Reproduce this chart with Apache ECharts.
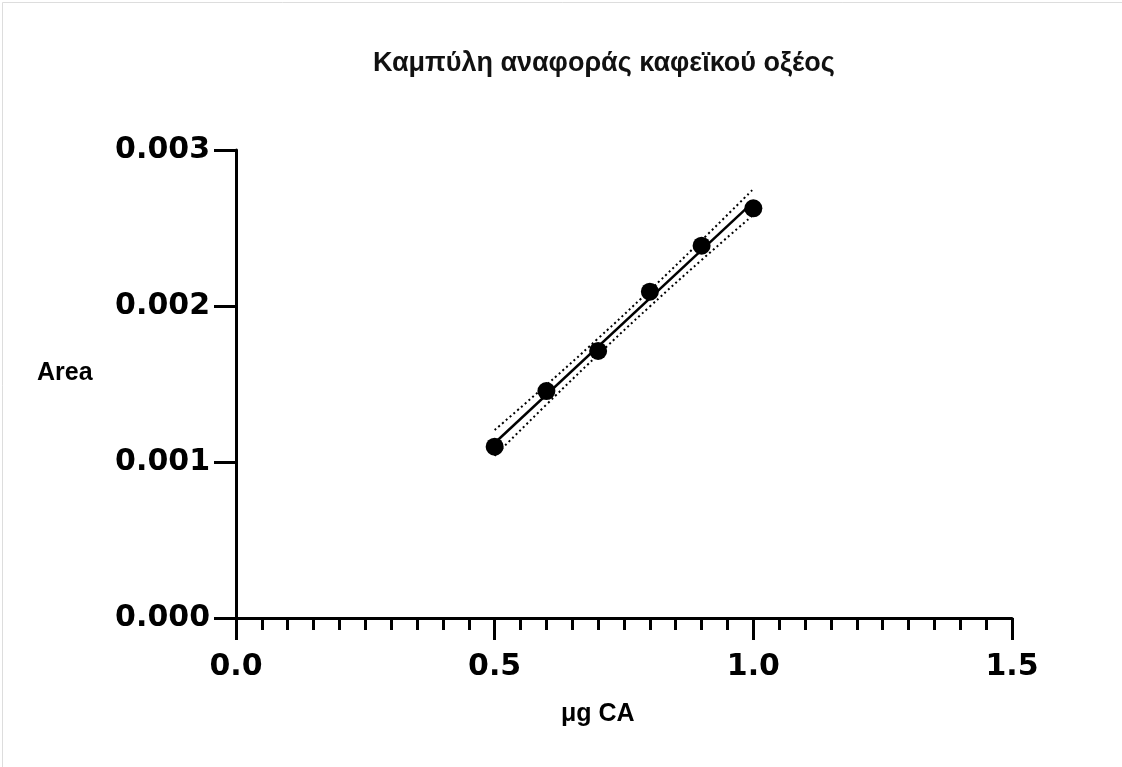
<!DOCTYPE html>
<html>
<head>
<meta charset="utf-8">
<script src="https://cdn.jsdelivr.net/npm/echarts@6/dist/echarts.min.js"></script>
<style>
html,body{margin:0;padding:0;background:#fff;}
#chart{width:1122px;height:767px;}
</style>
</head>
<body>
<div id="chart"></div>
<script>
// μg CA και Area
var xVals = [0.5, 0.6, 0.7, 0.8, 0.9, 1.0];
var yVals = [0.001098, 0.001455, 0.001712, 0.002092, 0.002387, 0.002626];
// ευθεία παλινδρόμησης (άκρα)
var fitX = [0.5, 1.0];
var fitY = [0.001122, 0.002667];
// ζώνες εμπιστοσύνης
var bandUpper = [0.001205, 0.001494, 0.001792, 0.002101, 0.002421, 0.002750];
var bandLower = [0.001039, 0.001368, 0.001688, 0.001997, 0.002295, 0.002584];

function pairs(xs, ys) {
	var out = [];
	xs.forEach(function(x, i) { out.push([x, ys[i]]); });
	return out;
}

var chart = echarts.init(document.getElementById('chart'));
var option = {
	backgroundColor: '#fff',
	animation: false,
	title: {
		text: 'Καμπύλη αναφοράς καφεϊκού οξέος',
		left: 368,
		top: 45,
		textStyle: {
			fontFamily: 'Liberation Sans',
			fontSize: 27,
			fontWeight: 'bold',
			color: '#111'
		}
	},
	grid: {
		left: 236,
		right: 110,
		top: 150,
		bottom: 149
	},
	xAxis: {
		type: 'value',
		min: 0,
		max: 1.5,
		interval: 0.5,
		splitLine: { show: false },
		axisLine: { onZero: false, lineStyle: { color: '#000', width: 3 } },
		axisTick: { length: 22, lineStyle: { color: '#000', width: 3 } },
		minorTick: { show: true, splitNumber: 10, length: 12, lineStyle: { color: '#000', width: 3 } },
		axisLabel: {
			margin: 34,
			fontFamily: 'DejaVu Sans',
			fontWeight: 'bold',
			fontSize: 30,
			color: '#000',
			formatter: function(v) { return v.toFixed(1); }
		}
	},
	yAxis: {
		type: 'value',
		min: 0,
		max: 0.003,
		interval: 0.001,
		splitLine: { show: false },
		axisLine: { onZero: false, lineStyle: { color: '#000', width: 3 } },
		axisTick: { length: 22, lineStyle: { color: '#000', width: 3 } },
		axisLabel: {
			margin: 26,
			fontFamily: 'DejaVu Sans',
			fontWeight: 'bold',
			fontSize: 30,
			color: '#000',
			formatter: function(v) { return v.toFixed(3); }
		}
	},
	graphic: [{
		type: 'text',
		left: 37,
		top: 361,
		style: { text: 'Area', font: 'bold 25px "Liberation Sans"', fill: '#000' }
	}, {
		type: 'text',
		left: 561,
		top: 702,
		style: { text: 'μg CA', font: 'bold 25px "Liberation Sans"', fill: '#000' }
	}, {
		type: 'rect',
		left: 0,
		top: 0,
		shape: { width: 1121, height: 766 },
		style: { fill: 'none', stroke: '#ddd', lineWidth: 1 }
	}],
	series: [{
		name: 'upper',
		type: 'line',
		smooth: true,
		showSymbol: false,
		data: pairs(xVals, bandUpper),
		lineStyle: { color: '#000', width: 2, type: [2, 3] },
		z: 2
	}, {
		name: 'lower',
		type: 'line',
		smooth: true,
		showSymbol: false,
		data: pairs(xVals, bandLower),
		lineStyle: { color: '#000', width: 2, type: [2, 3] },
		z: 2
	}, {
		name: 'fit',
		type: 'line',
		showSymbol: false,
		data: pairs(fitX, fitY),
		lineStyle: { color: '#000', width: 2.5 },
		z: 3
	}, {
		name: 'data',
		type: 'scatter',
		symbol: 'circle',
		symbolSize: 18,
		data: pairs(xVals, yVals),
		itemStyle: { color: '#000', opacity: 1 },
		z: 4
	}]
};
chart.setOption(option);
</script>
</body>
</html>
